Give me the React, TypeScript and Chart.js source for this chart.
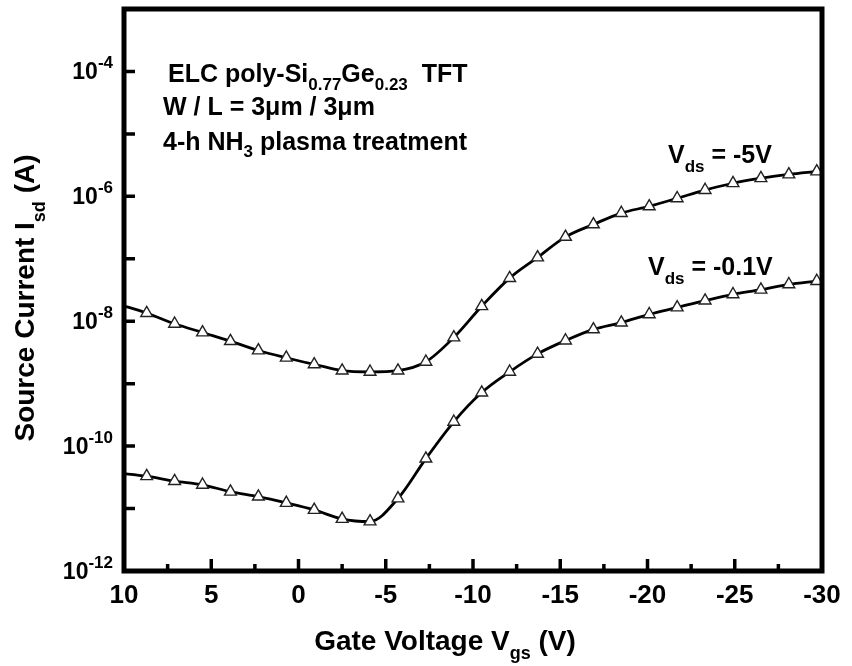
import React, { useEffect, useRef } from 'react';
import { Chart, registerables } from 'chart.js';

Chart.register(...registerables);

// ---- data ----
const gateVoltage = [10.3, 8.7, 7.1, 5.5, 3.9, 2.3, 0.7, -0.9, -2.5, -4.1, -5.7, -7.3, -8.9, -10.5, -12.1, -13.7, -15.3, -16.9, -18.5, -20.1, -21.7, -23.3, -24.9, -26.5, -28.1, -29.7];
const currentVds5 = [1.86e-8, 1.35e-8, 9.1e-9, 6.6e-9, 4.8e-9, 3.4e-9, 2.6e-9, 2.04e-9, 1.62e-9, 1.55e-9, 1.62e-9, 2.24e-9, 5.5e-9, 1.74e-8, 4.9e-8, 1.05e-7, 2.24e-7, 3.55e-7, 5.4e-7, 6.9e-7, 9.3e-7, 1.26e-6, 1.62e-6, 1.95e-6, 2.24e-6, 2.5e-6];
const currentVds01 = [3.7e-11, 3.3e-11, 2.75e-11, 2.4e-11, 1.86e-11, 1.55e-11, 1.23e-11, 9.5e-12, 6.8e-12, 6.2e-12, 1.45e-11, 6.3e-11, 2.45e-10, 7.2e-10, 1.55e-9, 3.0e-9, 4.9e-9, 7.4e-9, 9.5e-9, 1.29e-8, 1.66e-8, 2.14e-8, 2.7e-8, 3.2e-8, 3.9e-8, 4.4e-8];

const yLabelExponents = [-4, -6, -8, -10, -12];
const yTickExponents = [-11, -10, -9, -8, -7, -6, -5, -4];
const xMajorTicks = [5, 0, -5, -10, -15, -20, -25];
const xMinorTicks = [7.5, 2.5, -2.5, -7.5, -12.5, -17.5, -22.5, -27.5];

const xRange = { min: -30, max: 10 };
const yRange = { min: 1e-12, max: 1e-3 };

const FONT = '"Liberation Sans", Arial, Helvetica, sans-serif';

type Part = { t: string; size: number; dy: number };

function partsWidth(ctx: CanvasRenderingContext2D, parts: Part[]) {
  let w = 0;
  for (const p of parts) {
    ctx.font = `bold ${p.size}px ${FONT}`;
    w += ctx.measureText(p.t).width;
  }
  return w;
}

function drawParts(ctx: CanvasRenderingContext2D, x: number, y: number, parts: Part[]) {
  let cx = x;
  for (const p of parts) {
    ctx.font = `bold ${p.size}px ${FONT}`;
    ctx.fillText(p.t, cx, y + p.dy);
    cx += ctx.measureText(p.t).width;
  }
}

const decorPlugin = {
  id: 'decor',
  afterDraw(chart: any) {
    const ctx: CanvasRenderingContext2D = chart.ctx;
    const { left, right, top, bottom } = chart.chartArea;
    const xs = chart.scales.x;
    const ys = chart.scales.y;
    ctx.save();
    ctx.fillStyle = '#000';
    ctx.strokeStyle = '#000';
    ctx.textAlign = 'left';
    ctx.textBaseline = 'alphabetic';

    // inward ticks
    ctx.lineWidth = 3.5;
    ctx.beginPath();
    for (const e of yTickExponents) {
      const py = ys.getPixelForValue(Math.pow(10, e));
      ctx.moveTo(left, py);
      ctx.lineTo(left + 11, py);
    }
    for (const v of xMajorTicks) {
      const px = xs.getPixelForValue(v);
      ctx.moveTo(px, bottom);
      ctx.lineTo(px, bottom - 12);
    }
    for (const v of xMinorTicks) {
      const px = xs.getPixelForValue(v);
      ctx.moveTo(px, bottom);
      ctx.lineTo(px, bottom - 7);
    }
    ctx.stroke();

    // frame
    ctx.lineWidth = 5;
    ctx.strokeRect(left, top, right - left, bottom - top);

    // y tick labels 10^n
    for (const e of yLabelExponents) {
      const py = ys.getPixelForValue(Math.pow(10, e));
      const parts: Part[] = [
        { t: '10', size: 23, dy: 8 },
        { t: String(e), size: 17, dy: -3 },
      ];
      const w = partsWidth(ctx, parts);
      drawParts(ctx, left - 11 - w, py, parts);
    }

    // x axis title
    const xt: Part[] = [
      { t: 'Gate Voltage V', size: 28, dy: 0 },
      { t: 'gs', size: 18, dy: 9 },
      { t: ' (V)', size: 28, dy: 0 },
    ];
    const xtw = partsWidth(ctx, xt);
    drawParts(ctx, (left + right) / 2 - 28 - xtw / 2, bottom + 79, xt);

    // y axis title (rotated)
    const yt: Part[] = [
      { t: 'Source Current I', size: 28, dy: 0 },
      { t: 'sd', size: 18, dy: 11 },
      { t: ' (A)', size: 28, dy: 0 },
    ];
    const ytw = partsWidth(ctx, yt);
    ctx.save();
    ctx.translate(left - 90, (top + bottom) / 2 + 8);
    ctx.rotate(-Math.PI / 2);
    drawParts(ctx, -ytw / 2, 0, yt);
    ctx.restore();

    // annotation block
    drawParts(ctx, left + 44, top + 73, [
      { t: 'ELC poly-Si', size: 25, dy: 0 },
      { t: '0.77', size: 17, dy: 8 },
      { t: 'Ge', size: 25, dy: 0 },
      { t: '0.23', size: 17, dy: 8 },
      { t: '  TFT', size: 25, dy: 0 },
    ]);
    drawParts(ctx, left + 39, top + 106, [{ t: 'W / L = 3\u03bcm / 3\u03bcm', size: 25, dy: 0 }]);
    drawParts(ctx, left + 39, top + 141, [
      { t: '4-h NH', size: 25, dy: 0 },
      { t: '3', size: 17, dy: 7 },
      { t: ' plasma treatment', size: 25, dy: 0 },
    ]);

    // curve labels
    drawParts(ctx, left + 544, top + 154, [
      { t: 'V', size: 25, dy: 0 },
      { t: 'ds', size: 17, dy: 9 },
      { t: ' = -5V', size: 25, dy: 0 },
    ]);
    drawParts(ctx, left + 524, top + 266, [
      { t: 'V', size: 25, dy: 0 },
      { t: 'ds', size: 17, dy: 9 },
      { t: ' = -0.1V', size: 25, dy: 0 },
    ]);

    ctx.restore();
  },
};

export default function App() {
  const canvasRef = useRef<HTMLCanvasElement | null>(null);

  useEffect(() => {
    if (!canvasRef.current) return;
    const mk = (vals: number[], label: string) => ({
      label,
      data: gateVoltage.map((v, i) => ({ x: v, y: vals[i] })),
      borderColor: '#000',
      borderWidth: 2.8,
      pointStyle: 'triangle',
      pointRadius: 6.8,
      pointBackgroundColor: '#fff',
      pointBorderColor: '#222',
      pointBorderWidth: 1.4,
      cubicInterpolationMode: 'monotone',
      fill: false,
    });
    const chart = new Chart(canvasRef.current, {
      type: 'line',
      data: {
        datasets: [mk(currentVds5, 'Vds = -5V'), mk(currentVds01, 'Vds = -0.1V')] as any,
      },
      options: {
        responsive: false,
        animation: false,
        events: [],
        layout: { padding: { left: 0, top: 9, right: 30, bottom: 0 } },
        plugins: { legend: { display: false }, tooltip: { enabled: false } },
        scales: {
          x: {
            type: 'linear',
            min: xRange.min,
            max: xRange.max,
            reverse: true,
            grid: { display: false, drawTicks: false },
            border: { display: false },
            ticks: {
              stepSize: 5,
              autoSkip: false,
              maxRotation: 0,
              padding: 9,
              color: '#000',
              font: { family: FONT, size: 26, weight: 'bold' },
            },
            afterFit: (s: any) => { s.height = 95; },
          },
          y: {
            type: 'logarithmic',
            min: yRange.min,
            max: yRange.max,
            grid: { display: false, drawTicks: false },
            border: { display: false },
            ticks: { display: false },
            afterFit: (s: any) => { s.width = 124; },
          },
        },
      } as any,
      plugins: [decorPlugin],
    });
    return () => chart.destroy();
  }, []);

  return (
    <div style={{ position: 'absolute', left: 0, top: 0, width: 852, height: 666, background: '#fff' }}>
      <canvas ref={canvasRef} width={852} height={666} />
    </div>
  );
}
